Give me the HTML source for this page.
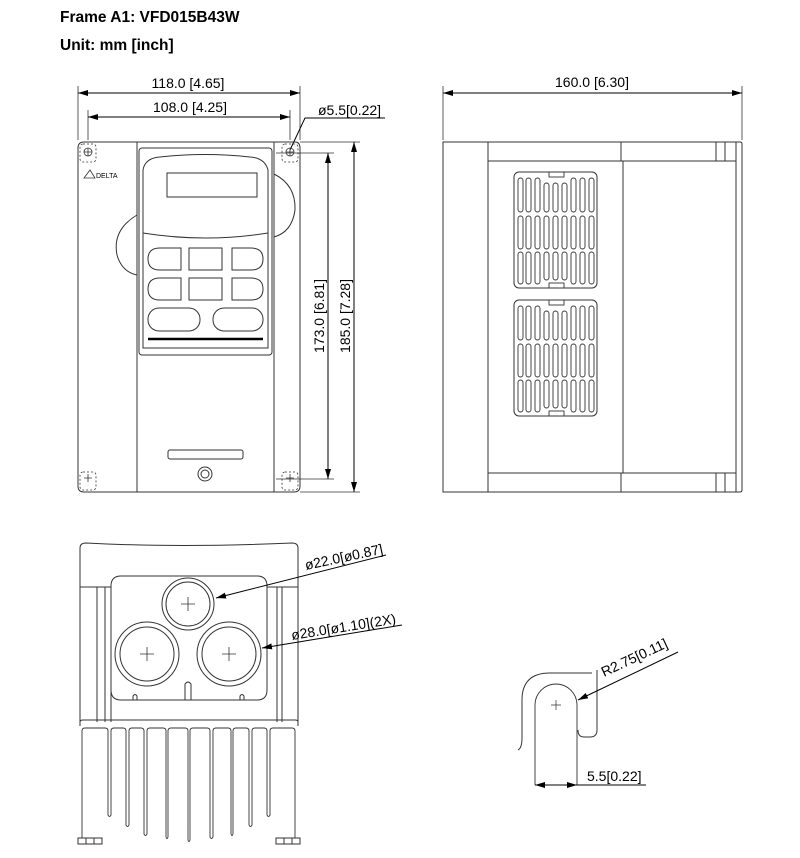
<!DOCTYPE html>
<html><head><meta charset="utf-8"><style>
html,body{margin:0;padding:0;background:#fff}
svg{display:block}
text{font-family:"Liberation Sans",Arial,sans-serif;fill:#000}
</style></head><body>
<svg width="800" height="858" viewBox="0 0 800 858" xmlns="http://www.w3.org/2000/svg">
<defs>
<marker id="a" viewBox="0 0 10 6" refX="10" refY="3" markerWidth="10" markerHeight="6" orient="auto-start-reverse" markerUnits="userSpaceOnUse"><path d="M0,0 L10,3 L0,6 z" fill="#000"/></marker>
</defs>
<text x="60" y="22" font-size="15.5" font-weight="bold">Frame A1: VFD015B43W</text>
<text x="60" y="50" font-size="15.5" font-weight="bold">Unit: mm [inch]</text>

<g fill="none" stroke="#333" stroke-width="1">
<!-- FRONT VIEW -->
<line x1="78" y1="86" x2="78" y2="140" stroke-width="0.8"/>
<line x1="300" y1="86" x2="300" y2="140" stroke-width="0.8"/>
<line x1="88" y1="110" x2="88" y2="140" stroke-width="0.8"/>
<line x1="290" y1="110" x2="290" y2="140" stroke-width="0.8"/>
<line x1="78" y1="93" x2="300" y2="93" marker-start="url(#a)" marker-end="url(#a)" stroke="#000"/>
<line x1="88" y1="117" x2="290" y2="117" marker-start="url(#a)" marker-end="url(#a)" stroke="#000"/>
<polyline points="290,150 305,118 385,118" stroke="#000"/>
<path d="M90,142 H295 Q300,142 300,148 V486 Q300,492 294,492 H84 Q78,492 78,486 V148 Q78,142 84,142 Z"/>
<rect x="137" y="142" width="137" height="350"/>
<rect x="139" y="148" width="133" height="207" rx="3"/>
<path d="M143,170 Q145,158 160,157 Q205,152 250,157 Q265,158 268,170 V348 H143 Z"/>
<path d="M143,233 Q205,243 268,233"/>
<rect x="167" y="173" width="90" height="24"/>
<path d="M181,248 H160 Q148,248 148,259 Q148,270 160,270 H181 Z"/>
<path d="M232,248 H251 Q263,248 263,259 Q263,270 251,270 H232 Z"/>
<rect x="189" y="248" width="33" height="22"/>
<path d="M181,278 H160 Q148,278 148,289 Q148,300 160,300 H181 Z"/>
<path d="M232,278 H251 Q263,278 263,289 Q263,300 251,300 H232 Z"/>
<rect x="189" y="278" width="33" height="22"/>
<rect x="148" y="308" width="52" height="23" rx="11"/>
<rect x="213" y="308" width="50" height="23" rx="11"/>
<line x1="148" y1="339" x2="263" y2="339" stroke-width="2.5" stroke="#000"/>
<path d="M137,215 Q112,230 117,255 Q122,272 137,275"/>
<path d="M274,174 Q296,185 295,210 Q292,232 274,237"/>
<rect x="168" y="450" width="75" height="9" rx="2"/>
<circle cx="205" cy="474" r="7"/><circle cx="205" cy="474" r="4"/>
<g stroke-dasharray="2,2" stroke-width="0.8">
<rect x="80" y="144" width="16" height="18" rx="3"/>
<rect x="282" y="144" width="16" height="18" rx="3"/>
<rect x="80" y="472" width="16" height="18" rx="3"/>
<rect x="282" y="472" width="16" height="18" rx="3"/>
</g>
<g stroke-width="0.8"><circle cx="88" cy="152" r="4"/><path d="M84,152h8M88,148v8"/>
<circle cx="290" cy="152" r="4"/><path d="M286,152h8M290,148v8"/>
<path d="M84,478h8M88,474v8M286,478h8M290,474v8"/></g>
<path d="M84,178 L90,170 L95,178 Z" stroke-width="0.8"/>
<text x="96" y="178" font-size="7" stroke="none" fill="#333">DELTA</text>
<line x1="276" y1="153" x2="334" y2="153" stroke-width="0.8"/>
<line x1="276" y1="479" x2="334" y2="479" stroke-width="0.8"/>
<line x1="300" y1="142" x2="360" y2="142" stroke-width="0.8"/>
<line x1="300" y1="492" x2="360" y2="492" stroke-width="0.8"/>
<line x1="328" y1="153" x2="328" y2="479" marker-start="url(#a)" marker-end="url(#a)" stroke="#000"/>
<line x1="354" y1="142" x2="354" y2="492" marker-start="url(#a)" marker-end="url(#a)" stroke="#000"/>

<!-- SIDE VIEW -->
<line x1="443" y1="86" x2="443" y2="140" stroke-width="0.8"/>
<line x1="742" y1="86" x2="742" y2="140" stroke-width="0.8"/>
<line x1="443" y1="93" x2="742" y2="93" marker-start="url(#a)" marker-end="url(#a)" stroke="#000"/>
<path d="M443,142 H740 Q742,142 742,144 V490 Q742,492 740,492 H443 Z"/>
<line x1="488" y1="142" x2="488" y2="492"/>
<line x1="488" y1="161" x2="736" y2="161"/>
<line x1="488" y1="473" x2="736" y2="473"/>
<line x1="621" y1="142" x2="621" y2="161"/>
<line x1="621" y1="473" x2="621" y2="492"/>
<line x1="623" y1="161" x2="623" y2="473"/>
<line x1="736" y1="142" x2="736" y2="492"/>
<path d="M716,142V161M725,142V161M716,473V492M725,473V492"/>
<rect x="514" y="172" width="83" height="116" rx="5"/>
<rect x="514" y="300" width="83" height="116" rx="5"/>
<g stroke-width="0.9">
<rect x="549" y="172" width="15" height="5"/><rect x="549" y="283" width="15" height="5"/>
<rect x="549" y="300" width="15" height="5"/><rect x="549" y="411" width="15" height="5"/>
</g>
<g stroke-width="0.9" id="vs">
<rect x="518" y="178" width="5" height="34" rx="2.5"/><rect x="526" y="178" width="5" height="34" rx="2.5"/><rect x="535" y="178" width="5" height="34" rx="2.5"/>
<rect x="544" y="183" width="5" height="29" rx="2.5"/><rect x="553" y="183" width="5" height="29" rx="2.5"/><rect x="562" y="183" width="5" height="29" rx="2.5"/>
<rect x="571" y="178" width="5" height="34" rx="2.5"/><rect x="580" y="178" width="5" height="34" rx="2.5"/><rect x="589" y="178" width="5" height="34" rx="2.5"/>
<rect x="518" y="216" width="5" height="33" rx="2.5"/><rect x="526" y="216" width="5" height="33" rx="2.5"/><rect x="535" y="216" width="5" height="33" rx="2.5"/>
<rect x="544" y="216" width="5" height="33" rx="2.5"/><rect x="553" y="216" width="5" height="33" rx="2.5"/><rect x="562" y="216" width="5" height="33" rx="2.5"/>
<rect x="571" y="216" width="5" height="33" rx="2.5"/><rect x="580" y="216" width="5" height="33" rx="2.5"/><rect x="589" y="216" width="5" height="33" rx="2.5"/>
<rect x="518" y="252" width="5" height="32" rx="2.5"/><rect x="526" y="252" width="5" height="32" rx="2.5"/><rect x="535" y="252" width="5" height="32" rx="2.5"/>
<rect x="544" y="252" width="5" height="28" rx="2.5"/><rect x="553" y="252" width="5" height="28" rx="2.5"/><rect x="562" y="252" width="5" height="28" rx="2.5"/>
<rect x="571" y="252" width="5" height="32" rx="2.5"/><rect x="580" y="252" width="5" height="32" rx="2.5"/><rect x="589" y="252" width="5" height="32" rx="2.5"/>
</g>
<use href="#vs" y="128"/>

<!-- BOTTOM VIEW -->
<path d="M80,722 V548 Q80,543 86,543 Q180,548 292,543 Q298,543 298,548 V722"/>
<path d="M80,587 H111 M267,587 H298"/>
<path d="M97,587 V722 M105,587 V722 M277,587 V722 M282,587 V722"/>
<path d="M111,722 V586 Q111,576 121,576 H257 Q267,576 267,586 V690 Q267,700 257,700 H121 Q111,700 111,690 Z"/>
<circle cx="188" cy="604" r="26"/><circle cx="188" cy="604" r="22"/>
<circle cx="147" cy="654" r="32"/><circle cx="147" cy="654" r="27"/>
<circle cx="229" cy="654" r="32"/><circle cx="229" cy="654" r="27"/>
<g stroke-width="0.8"><path d="M181,604h14M188,597v14M140,654h14M147,647v14M222,654h14M229,647v14"/></g>
<path d="M185,700 V684 Q188,680 191,684 V700"/>
<path d="M133,700 V696 Q135,693 137,696 V700 M240,700 V696 Q242,693 244,696 V700"/>
<path d="M80,722 Q80,720 83,720 H295 Q298,720 298,722 V724"/>
<path d="M80,722 V726 M298,724 V726"/>
<g stroke-width="0.9">
<path d="M82,838 V731 Q82,728 85,728 H105 Q108,728 108,731 V815 Q109.5,818 111,815 V731 Q111,728 114,728 H123 Q126,728 126,731 V825 Q127.5,828 129,825 V731 Q129,728 132,728 H141 Q144,728 144,731 V834 Q145.5,837 147,834 V731 Q147,728 150,728 H163 Q166,728 166,731 V837 Q167,840 168,837 V731 Q168,728 171,728 H185 Q188,728 188,731 V840 Q189,843 190,840 V731 Q190,728 193,728 H207 Q210,728 210,731 V837 Q211.5,840 213,837 V731 Q213,728 216,728 H228 Q231,728 231,731 V834 Q232,837 233,834 V731 Q233,728 236,728 H246 Q249,728 249,731 V825 Q250.5,828 252,825 V731 Q252,728 255,728 H264 Q267,728 267,731 V815 Q268.5,818 270,815 V731 Q270,728 273,728 H292 Q295,728 295,731 V838"/>
</g>
<rect x="78" y="838" width="24" height="6"/><path d="M86,838v6M94,838v6"/>
<rect x="276" y="838" width="24" height="6"/><path d="M284,838v6M292,838v6"/>
<line x1="216" y1="598" x2="386" y2="555" marker-start="url(#a)" stroke="#000"/>
<line x1="262" y1="648" x2="402" y2="625" marker-start="url(#a)" stroke="#000"/>

<!-- SLOT DETAIL -->
<path d="M518,750 Q522,748 522,738 V700 Q522,673 550,673 H592"/>
<path d="M597,670 V730 Q597,737 590,737 H584 Q578,737 578,730"/>
<path d="M535,785 V705 A21,21 0 0 1 577,705 V785" stroke-width="0.9"/>
<path d="M551,705h10M556,700v10" stroke-width="0.7"/>
<line x1="535" y1="785" x2="577" y2="785" marker-start="url(#a)" marker-end="url(#a)" stroke="#000"/>
<line x1="577" y1="785" x2="646" y2="785" stroke="#000"/>
<line x1="578" y1="700" x2="678" y2="652" marker-start="url(#a)" stroke="#000"/>
</g>

<text x="188" y="88" font-size="14" text-anchor="middle">118.0 [4.65]</text>
<text x="190" y="112" font-size="14" text-anchor="middle">108.0 [4.25]</text>
<text x="318" y="115" font-size="14">ø5.5[0.22]</text>
<text x="592" y="87" font-size="14" text-anchor="middle">160.0 [6.30]</text>
<text transform="translate(324,316) rotate(-90)" font-size="14" text-anchor="middle">173.0 [6.81]</text>
<text transform="translate(350,316) rotate(-90)" font-size="14" text-anchor="middle">185.0 [7.28]</text>
<text transform="translate(306,570) rotate(-12)" font-size="14">ø22.0[ø0.87]</text>
<text transform="translate(292,640) rotate(-9)" font-size="14">ø28.0[ø1.10](2X)</text>
<text transform="translate(604,677) rotate(-25)" font-size="14">R2.75[0.11]</text>
<text x="587" y="781" font-size="14">5.5[0.22]</text>
</svg>
</body></html>
